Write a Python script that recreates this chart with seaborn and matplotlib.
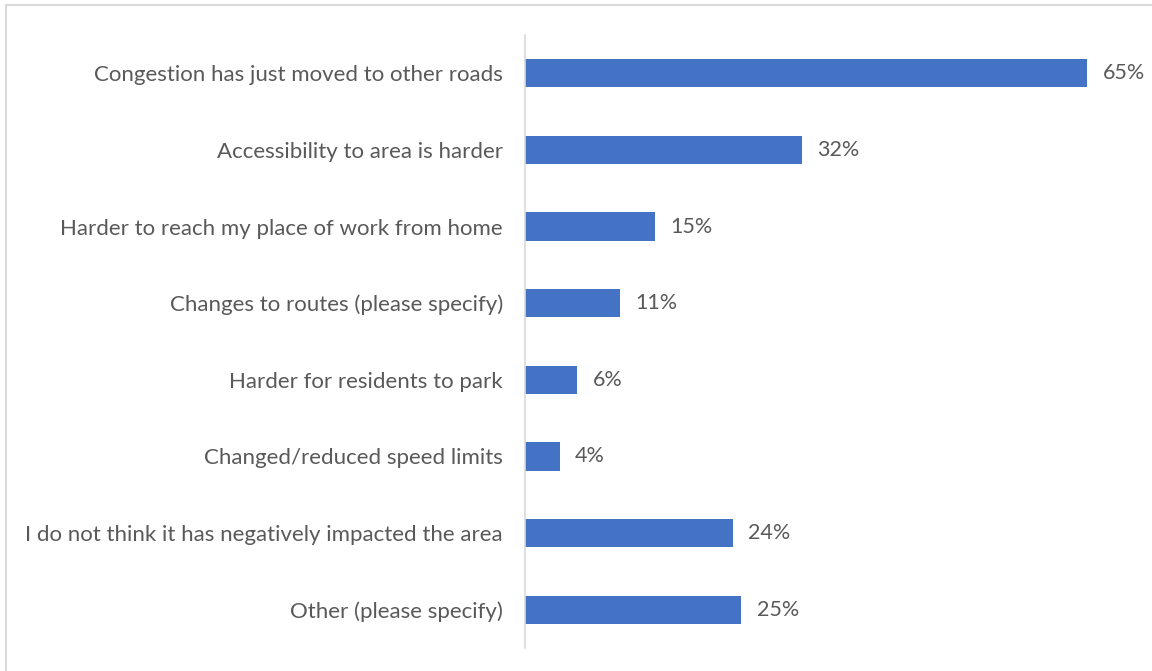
import matplotlib
matplotlib.use('Agg')

import matplotlib.pyplot as plt
import seaborn as sns
import pandas as pd

categories = [
    'Congestion has just moved to other roads',
    'Accessibility to area is harder',
    'Harder to reach my place of work from home',
    'Changes to routes (please specify)',
    'Harder for residents to park',
    'Changed/reduced speed limits',
    'I do not think it has negatively impacted the area',
    'Other (please specify)',
]
values = [65, 32, 15, 11, 6, 4, 24, 25]

df = pd.DataFrame({'category': categories, 'value': values})

sns.set_style('white')
plt.rcParams['font.family'] = ['Lato', 'DejaVu Sans']

fig = plt.figure(figsize=(11.52, 6.71), dpi=100)
W, H = 1152, 671
ax = fig.add_axes([525 / W, (H - 648) / H, (1087 - 525) / W, 613 / H])

sns.barplot(data=df, x='value', y='category', color='#4472C4', width=0.37,
            saturation=1, linewidth=0, ax=ax)

ax.set_xlim(0, 65)
ax.set_xlabel('')
ax.set_ylabel('')
ax.set_xticks([])
ax.tick_params(axis='y', length=0, pad=16, labelsize=16, labelcolor='#595959')
for s in ['top', 'right', 'bottom']:
    ax.spines[s].set_visible(False)
ax.spines['left'].set_color('#d9d9d9')
ax.spines['left'].set_linewidth(1.2)

for i, v in enumerate(values):
    ax.text(v + 1.8, i, f'{v}%', va='center', ha='left', fontsize=15.5,
            color='#595959', clip_on=False)

# light grey frame; right and bottom edges fall outside the image
fig.patches.append(plt.Rectangle((6 / W, -0.05), 1.1, 1 - 5 / H + 0.05,
                                 transform=fig.transFigure, fill=False,
                                 edgecolor='#d9d9d9', linewidth=1.5))

plt.savefig('out.png', dpi=100)
